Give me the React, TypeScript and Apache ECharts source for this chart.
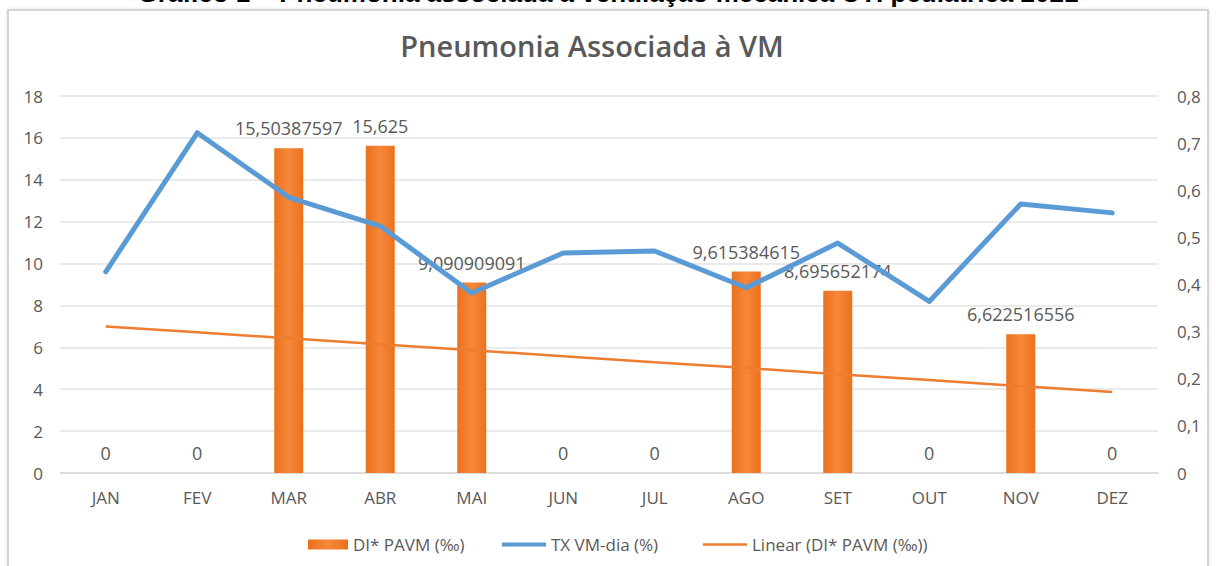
import React, { useEffect, useRef } from "react";
import * as echarts from "echarts";

const months = ["JAN", "FEV", "MAR", "ABR", "MAI", "JUN", "JUL", "AGO", "SET", "OUT", "NOV", "DEZ"];
const pavm = [0, 0, 15.50387597, 15.625, 9.090909091, 0, 0, 9.615384615, 8.695652174, 0, 6.622516556, 0];
const txVmDia = [0.427, 0.722, 0.585, 0.524, 0.382, 0.467, 0.471, 0.393, 0.488, 0.364, 0.571, 0.552];
const linearTrend = [7.0, 6.72, 6.43, 6.15, 5.86, 5.58, 5.29, 5.01, 4.72, 4.44, 4.15, 3.87];
const leftTicks = { min: 0, max: 18, interval: 2 };
const rightTicks = { min: 0, max: 0.8, interval: 0.1 };

const pageTitle = "Gráfico 1 – Pneumonia associada à ventilação mecânica UTI pediátrica 2021";
const chartTitle = "Pneumonia Associada à VM";
const barName = "DI* PAVM (‰)";
const lineName = "TX VM-dia (%)";
const trendName = "Linear (DI* PAVM (‰))";

const FONT = "'Open Sans', sans-serif";
const GRAY = "#595959";
const ORANGE = "#ED7D31";
const BLUE = "#5B9BD5";

export default function App() {
  const ref = useRef<HTMLDivElement>(null);
  useEffect(() => {
    if (!ref.current) return;
    const chart = echarts.init(ref.current, null, { renderer: "svg" });
    const fmt = (v: number) => String(v).replace(".", ",");
    const legendText = { color: GRAY, fontFamily: FONT, fontSize: 17 };
    chart.setOption({
      animation: false,
      backgroundColor: "#ffffff",
      graphic: [
        {
          type: "rect",
          shape: { x: 8, y: 10, width: 1200, height: 600 },
          style: { fill: "#ffffff", stroke: "#C9C9C9", lineWidth: 1.5, shadowColor: "rgba(0,0,0,0.15)", shadowBlur: 3 },
          z: -10,
          silent: true,
        },
        {
          type: "text",
          x: 608,
          y: -7,
          style: {
            text: pageTitle,
            fill: "#000000",
            font: "bold 26px 'Liberation Sans', Arial, sans-serif",
            textAlign: "center",
            textVerticalAlign: "middle",
          },
          z: 10,
        },
      ],
      title: {
        text: chartTitle,
        left: 587,
        top: 26,
        textAlign: "center",
        textStyle: { color: GRAY, fontFamily: FONT, fontSize: 29, fontWeight: 600 },
      },
      legend: [
        {
          data: [{ name: barName, icon: "rect" }],
          left: 303,
          top: 531,
          itemWidth: 40,
          itemHeight: 10,
          textStyle: legendText,
        },
        {
          data: [{ name: lineName, icon: "rect" }],
          left: 497,
          top: 531,
          itemWidth: 44,
          itemHeight: 4,
          textStyle: legendText,
        },
        {
          data: [{ name: trendName, icon: "rect" }],
          left: 698,
          top: 531,
          itemWidth: 44,
          itemHeight: 2.5,
          textStyle: legendText,
        },
      ],
      grid: { left: 60, right: 58, top: 96, bottom: 93, containLabel: false },
      xAxis: {
        type: "category",
        data: months,
        axisLine: { show: true, lineStyle: { color: "#D9D9D9", width: 1.5 } },
        axisTick: { show: false },
        axisLabel: { color: GRAY, fontFamily: FONT, fontSize: 17, margin: 16 },
      },
      yAxis: [
        {
          type: "value",
          min: leftTicks.min,
          max: leftTicks.max,
          interval: leftTicks.interval,
          axisLine: { show: false },
          axisTick: { show: false },
          axisLabel: { color: GRAY, fontFamily: FONT, fontSize: 17, margin: 17 },
          splitLine: { lineStyle: { color: "#E3E3E3", width: 1.5 } },
        },
        {
          type: "value",
          min: rightTicks.min,
          max: rightTicks.max,
          interval: rightTicks.interval,
          position: "right",
          axisLine: { show: false },
          axisTick: { show: false },
          splitLine: { show: false },
          axisLabel: {
            color: GRAY,
            fontFamily: FONT,
            fontSize: 17,
            margin: 19,
            formatter: (v: number) => (v === 0 ? "0" : v.toFixed(1).replace(".", ",")),
          },
        },
      ],
      series: [
        {
          name: barName,
          type: "bar",
          data: pavm,
          yAxisIndex: 0,
          barWidth: 29,
          z: 2,
          itemStyle: {
            color: new echarts.graphic.LinearGradient(0, 0, 1, 0, [
              { offset: 0, color: "#EA721E" },
              { offset: 0.5, color: "#F7873A" },
              { offset: 1, color: "#EA721E" },
            ]),
          },
          label: {
            show: true,
            position: "top",
            distance: 11,
            color: GRAY,
            fontFamily: FONT,
            fontSize: 18,
            formatter: (p: any) => fmt(p.value),
          },
        },
        {
          name: trendName,
          type: "line",
          data: linearTrend,
          yAxisIndex: 0,
          z: 3,
          color: ORANGE,
          showSymbol: false,
          lineStyle: { color: ORANGE, width: 2.5 },
        },
        {
          name: lineName,
          type: "line",
          data: txVmDia,
          yAxisIndex: 1,
          z: 4,
          color: BLUE,
          showSymbol: false,
          lineStyle: { color: BLUE, width: 5, cap: "round", join: "round" },
        },
      ],
    });
    return () => chart.dispose();
  }, []);
  return (
    <div
      ref={ref}
      style={{ position: "fixed", left: 0, top: 0, width: 1216, height: 566, background: "#fff" }}
    />
  );
}
